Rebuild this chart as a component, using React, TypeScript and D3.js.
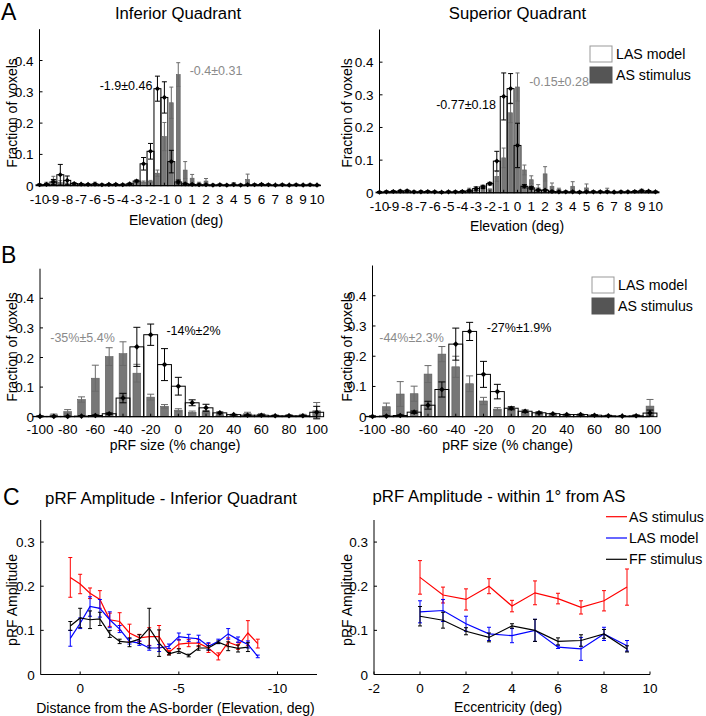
import React from 'react';
import * as d3 from 'd3';

const FONT = '"Liberation Sans", Arial, Helvetica, sans-serif';
const GRAY_TEXT = '#8a8a8a';
const BAR_GRAY = '#777777';
const BAR_GRAY_EDGE = '#5c5c5c';

// ---------- Panel A: elevation histograms ----------
const elevBins = [-10, -9.5, -9, -8.5, -8, -7.5, -7, -6.5, -6, -5.5, -5, -4.5, -4, -3.5, -3, -2.5, -2, -1.5, -1, -0.5, 0, 0.5, 1, 1.5, 2, 2.5, 3, 3.5, 4, 4.5, 5, 5.5, 6, 6.5, 7, 7.5, 8, 8.5, 9, 9.5, 10];
const elevTicks = [-10, -9, -8, -7, -6, -5, -4, -3, -2, -1, 0, 1, 2, 3, 4, 5, 6, 7, 8, 9, 10];
const fracTicks = [0, 0.1, 0.2, 0.3, 0.4];

const infLAS = [0.003, 0.004, 0.012, 0.035, 0.017, 0.007, 0.005, 0.004, 0.005, 0.003, 0.004, 0.004, 0.003, 0.006, 0.015, 0.07, 0.11, 0.31, 0.282, 0.077, 0.012, 0.006, 0.004, 0.003, 0.003, 0.002, 0.003, 0.002, 0.003, 0.002, 0.003, 0.003, 0.004, 0.003, 0.002, 0.003, 0.002, 0.003, 0.002, 0.003, 0.002];
const infLASErr = [0.002, 0.002, 0.008, 0.033, 0.014, 0.002, 0.002, 0.002, 0.002, 0.002, 0.002, 0.002, 0.002, 0.002, 0.003, 0.02, 0.025, 0.04, 0.05, 0.036, 0.006, 0.002, 0.002, 0.002, 0.002, 0.002, 0.002, 0.002, 0.002, 0.002, 0.002, 0.002, 0.002, 0.002, 0.002, 0.002, 0.002, 0.002, 0.002, 0.002, 0.002];
const infAS = [0.002, 0.008, 0.02, 0.01, 0.006, 0.004, 0.004, 0.004, 0.008, 0.003, 0.003, 0.004, 0.003, 0.004, 0.01, 0.012, 0.014, 0.04, 0.157, 0.265, 0.355, 0.05, 0.024, 0.008, 0.015, 0.003, 0.003, 0.002, 0.006, 0.003, 0.02, 0.003, 0.004, 0.003, 0.002, 0.002, 0.002, 0.002, 0.003, 0.002, 0.002];
const infASErr = [0.002, 0.003, 0.01, 0.006, 0.002, 0.002, 0.002, 0.002, 0.003, 0.002, 0.002, 0.002, 0.002, 0.002, 0.002, 0.003, 0.003, 0.01, 0.045, 0.05, 0.038, 0.027, 0.012, 0.003, 0.008, 0.002, 0.002, 0.002, 0.004, 0.002, 0.017, 0.002, 0.002, 0.002, 0.002, 0.002, 0.002, 0.002, 0.002, 0.002, 0.002];

const supLAS = [0.002, 0.003, 0.004, 0.005, 0.006, 0.003, 0.003, 0.004, 0.003, 0.002, 0.003, 0.003, 0.004, 0.006, 0.013, 0.018, 0.028, 0.097, 0.295, 0.319, 0.145, 0.02, 0.015, 0.008, 0.008, 0.004, 0.003, 0.003, 0.003, 0.002, 0.003, 0.003, 0.003, 0.003, 0.002, 0.003, 0.003, 0.004, 0.006, 0.005, 0.003];
const supLASErr = [0.002, 0.002, 0.002, 0.002, 0.002, 0.002, 0.002, 0.002, 0.002, 0.002, 0.002, 0.002, 0.002, 0.002, 0.005, 0.005, 0.004, 0.03, 0.072, 0.046, 0.068, 0.005, 0.004, 0.002, 0.002, 0.002, 0.002, 0.002, 0.002, 0.002, 0.002, 0.002, 0.002, 0.002, 0.002, 0.002, 0.002, 0.002, 0.002, 0.002, 0.002];
const supAS = [0.002, 0.004, 0.005, 0.007, 0.006, 0.003, 0.005, 0.003, 0.003, 0.002, 0.003, 0.003, 0.005, 0.01, 0.008, 0.01, 0.01, 0.05, 0.107, 0.245, 0.324, 0.07, 0.04, 0.015, 0.058, 0.02, 0.01, 0.003, 0.02, 0.003, 0.015, 0.004, 0.004, 0.008, 0.003, 0.003, 0.003, 0.005, 0.008, 0.005, 0.002];
const supASErr = [0.002, 0.002, 0.002, 0.002, 0.002, 0.002, 0.002, 0.002, 0.002, 0.002, 0.002, 0.002, 0.002, 0.004, 0.002, 0.002, 0.002, 0.015, 0.03, 0.03, 0.043, 0.015, 0.012, 0.01, 0.022, 0.01, 0.004, 0.002, 0.014, 0.002, 0.012, 0.002, 0.002, 0.006, 0.002, 0.002, 0.002, 0.002, 0.003, 0.002, 0.002];

// ---------- Panel B: pRF size histograms ----------
const sizeBins = [-100, -90, -80, -70, -60, -50, -40, -30, -20, -10, 0, 10, 20, 30, 40, 50, 60, 70, 80, 90, 100];
const sizeTicks = [-100, -80, -60, -40, -20, 0, 20, 40, 60, 80, 100];

const infSizeLAS = [0.001, 0.001, 0.001, 0.002, 0.004, 0.01, 0.063, 0.236, 0.277, 0.176, 0.103, 0.047, 0.03, 0.013, 0.007, 0.005, 0.005, 0.003, 0.003, 0.003, 0.015];
const infSizeLASErr = [0.001, 0.001, 0.001, 0.001, 0.002, 0.003, 0.016, 0.066, 0.036, 0.054, 0.03, 0.01, 0.012, 0.003, 0.001, 0.001, 0.001, 0.001, 0.001, 0.001, 0.02];
const infSizeAS = [0.002, 0.006, 0.017, 0.058, 0.13, 0.203, 0.213, 0.147, 0.066, 0.035, 0.022, 0.015, 0.016, 0.006, 0.004, 0.01, 0.007, 0.004, 0.005, 0.006, 0.02];
const infSizeASErr = [0.002, 0.003, 0.007, 0.009, 0.044, 0.03, 0.04, 0.03, 0.01, 0.006, 0.005, 0.004, 0.005, 0.002, 0.002, 0.005, 0.003, 0.002, 0.002, 0.002, 0.028];

const supSizeLAS = [0.001, 0.002, 0.004, 0.015, 0.038, 0.09, 0.24, 0.282, 0.14, 0.083, 0.028, 0.018, 0.013, 0.01, 0.007, 0.007, 0.005, 0.003, 0.002, 0.003, 0.012];
const supSizeLASErr = [0.001, 0.001, 0.002, 0.004, 0.013, 0.025, 0.053, 0.03, 0.043, 0.024, 0.005, 0.004, 0.003, 0.001, 0.001, 0.001, 0.001, 0.001, 0.001, 0.001, 0.01];
const supSizeAS = [0.001, 0.033, 0.075, 0.076, 0.141, 0.207, 0.165, 0.109, 0.052, 0.025, 0.025, 0.013, 0.01, 0.006, 0.005, 0.006, 0.004, 0.003, 0.002, 0.005, 0.035];
const supSizeASErr = [0.002, 0.012, 0.041, 0.025, 0.028, 0.025, 0.035, 0.026, 0.012, 0.005, 0.005, 0.004, 0.003, 0.002, 0.002, 0.002, 0.002, 0.002, 0.002, 0.002, 0.022];

// ---------- Panel C: pRF amplitude ----------
const distX = [0.5, 0, -0.5, -1, -1.5, -2, -2.5, -3, -3.5, -4, -4.5, -5, -5.5, -6, -6.5, -7, -7.5, -8, -8.5, -9];
const distXBlack = [0.5, 0, -0.5, -1, -1.5, -2, -2.5, -3, -3.5, -4, -4.5, -5, -5.5, -6, -6.5, -7, -7.5, -8, -8.5];
const distTicks = [0, -5, -10];
const ampTicks = [0, 0.1, 0.2, 0.3];
const distRed = [0.22, 0.205, 0.184, 0.17, 0.124, 0.12, 0.094, 0.083, 0.086, 0.086, 0.05, 0.069, 0.071, 0.071, 0.06, 0.041, 0.073, 0.065, 0.094, 0.07];
const distRedErr = [0.045, 0.022, 0.012, 0.02, 0.015, 0.02, 0.02, 0.008, 0.02, 0.025, 0.005, 0.01, 0.008, 0.008, 0.01, 0.008, 0.01, 0.008, 0.028, 0.01];
const distBlue = [0.082, 0.116, 0.154, 0.15, 0.124, 0.103, 0.075, 0.071, 0.06, 0.06, 0.064, 0.086, 0.083, 0.081, 0.064, 0.075, 0.092, 0.079, 0.068, 0.041];
const distBlueErr = [0.018, 0.012, 0.022, 0.02, 0.018, 0.008, 0.006, 0.005, 0.005, 0.008, 0.005, 0.008, 0.008, 0.008, 0.008, 0.005, 0.012, 0.006, 0.008, 0.003];
const distBlack = [0.11, 0.128, 0.124, 0.126, 0.092, 0.075, 0.073, 0.08, 0.105, 0.071, 0.047, 0.053, 0.043, 0.06, 0.06, 0.073, 0.064, 0.059, 0.062];
const distBlackErr = [0.01, 0.022, 0.02, 0.015, 0.008, 0.005, 0.01, 0.01, 0.045, 0.03, 0.003, 0.005, 0.003, 0.005, 0.005, 0.003, 0.01, 0.008, 0.01];

const eccX = [0, 1, 2, 3, 4, 5, 6, 7, 8, 9];
const eccTicks = [-2, 0, 2, 4, 6, 8, 10];
const eccRed = [0.22, 0.18, 0.17, 0.2, 0.155, 0.185, 0.172, 0.152, 0.167, 0.198];
const eccRedErr = [0.038, 0.018, 0.024, 0.017, 0.013, 0.027, 0.012, 0.015, 0.023, 0.041];
const eccBlue = [0.142, 0.145, 0.115, 0.092, 0.088, 0.1, 0.062, 0.058, 0.092, 0.065];
const eccBlueErr = [0.025, 0.025, 0.017, 0.015, 0.016, 0.025, 0.003, 0.026, 0.015, 0.012];
const eccBlack = [0.132, 0.123, 0.098, 0.084, 0.11, 0.1, 0.075, 0.077, 0.092, 0.058];
const eccBlackErr = [0.022, 0.018, 0.008, 0.01, 0.005, 0.025, 0.008, 0.013, 0.01, 0.007];

const legendBars = ['LAS model', 'AS stimulus'];
const legendLines = ['AS stimulus', 'LAS model', 'FF stimulus'];
const lineColors = ['#ff0000', '#0000ff', '#000000'];

type HistProps = {
  xDomain: [number, number];
  xRange: [number, number];
  y0: number;
  yTop: number;
  bins: number[];
  bw: number;
  white: number[];
  whiteErr: number[];
  gray: number[];
  grayErr: number[];
  xTicks: number[];
  cap: number;
  grayCap: number;
  marker: number;
  tickDy: number;
};

function diamond(cx: number, cy: number, r: number) {
  return `M${cx},${cy - r}L${cx + r},${cy}L${cx},${cy + r}L${cx - r},${cy}Z`;
}

function HistPanel(p: HistProps) {
  const x = d3.scaleLinear().domain(p.xDomain).range(p.xRange);
  const y = d3.scaleLinear().domain([0, 0.5]).range([p.y0, p.yTop]);
  const half = p.bw / 2;
  const gHalf = p.bw * 0.28;
  return (
    <g>
      {p.bins.map((b, i) => (
        <rect key={'w' + i} x={x(b - half)} y={y(p.white[i])} width={x(b + half) - x(b - half)} height={p.y0 - y(p.white[i])} fill="#fff" />
      ))}
      {p.bins.map((b, i) => (
        <rect key={'g' + i} x={x(b - gHalf)} y={y(p.gray[i])} width={x(b + gHalf) - x(b - gHalf)} height={p.y0 - y(p.gray[i])} fill={BAR_GRAY} stroke={BAR_GRAY_EDGE} strokeWidth={0.6} />
      ))}
      {p.bins.map((b, i) => (
        <g key={'ge' + i} stroke="#6a6a6a" strokeWidth={1}>
          <line x1={x(b)} x2={x(b)} y1={y(p.gray[i] - p.grayErr[i])} y2={y(p.gray[i] + p.grayErr[i])} />
          <line x1={x(b) - p.grayCap} x2={x(b) + p.grayCap} y1={y(p.gray[i] + p.grayErr[i])} y2={y(p.gray[i] + p.grayErr[i])} />
          <line x1={x(b) - p.grayCap} x2={x(b) + p.grayCap} y1={y(p.gray[i] - p.grayErr[i])} y2={y(p.gray[i] - p.grayErr[i])} />
        </g>
      ))}
      {p.bins.map((b, i) => (
        <rect key={'wo' + i} x={x(b - half)} y={y(p.white[i])} width={x(b + half) - x(b - half)} height={p.y0 - y(p.white[i])} fill="none" stroke="#000" strokeWidth={1} />
      ))}
      {p.bins.map((b, i) => (
        <g key={'we' + i} stroke="#000" strokeWidth={1}>
          <line x1={x(b)} x2={x(b)} y1={y(p.white[i] - p.whiteErr[i])} y2={y(p.white[i] + p.whiteErr[i])} />
          <line x1={x(b) - p.cap} x2={x(b) + p.cap} y1={y(p.white[i] + p.whiteErr[i])} y2={y(p.white[i] + p.whiteErr[i])} />
          <line x1={x(b) - p.cap} x2={x(b) + p.cap} y1={y(p.white[i] - p.whiteErr[i])} y2={y(p.white[i] - p.whiteErr[i])} />
        </g>
      ))}
      {p.bins.map((b, i) => (
        <path key={'m' + i} d={diamond(x(b), y(p.white[i]), p.marker)} fill="#000" />
      ))}
      <Axes x={x} y={y} xTicks={p.xTicks} yTicks={fracTicks} x0={p.xRange[0]} x1={p.xRange[1]} y0={p.y0} yTop={p.yTop} tickDy={p.tickDy} yFmt={(v) => (v === 0 ? '0' : d3.format('.1f')(v))} />
    </g>
  );
}

function Axes(p: { x: d3.ScaleLinear<number, number>; y: d3.ScaleLinear<number, number>; xTicks: number[]; yTicks: number[]; x0: number; x1: number; y0: number; yTop: number; tickDy: number; yFmt: (v: number) => string }) {
  return (
    <g fontFamily={FONT} fontSize={13.5} fill="#000">
      <line x1={p.x0} x2={p.x1} y1={p.y0} y2={p.y0} stroke="#000" strokeWidth={1} />
      <line x1={p.x0} x2={p.x0} y1={p.y0} y2={p.yTop} stroke="#000" strokeWidth={1} />
      {p.yTicks.map((t) => (
        <g key={'yt' + t}>
          <line x1={p.x0} x2={p.x0 + 3} y1={p.y(t)} y2={p.y(t)} stroke="#000" />
          <text x={p.x0 - 6} y={p.y(t) + 5} textAnchor="end">{p.yFmt(t)}</text>
        </g>
      ))}
      {p.xTicks.map((t) => (
        <g key={'xt' + t}>
          <line x1={p.x(t)} x2={p.x(t)} y1={p.y0} y2={p.y0 - 3} stroke="#000" />
          <text x={p.x(t)} y={p.y0 + p.tickDy} textAnchor="middle">{String(t)}</text>
        </g>
      ))}
    </g>
  );
}

type Series = { xs: number[]; ys: number[]; es: number[]; color: string };

function LinePanel(p: { xDomain: [number, number]; xRange: [number, number]; y0: number; yTop: number; series: Series[]; xTicks: number[] }) {
  const x = d3.scaleLinear().domain(p.xDomain).range(p.xRange);
  const y = d3.scaleLinear().domain([0, 0.35]).range([p.y0, p.yTop]);
  const cap = 2;
  return (
    <g>
      {p.series.map((s, si) => {
        const line = d3.line<number>().x((_, i) => x(s.xs[i])).y((v) => y(v));
        return (
          <g key={si} stroke={s.color} fill="none" strokeWidth={1.2}>
            <path d={line(s.ys) || ''} />
            {s.ys.map((v, i) => (
              <g key={i} strokeWidth={1}>
                <line x1={x(s.xs[i])} x2={x(s.xs[i])} y1={y(v - s.es[i])} y2={y(v + s.es[i])} />
                <line x1={x(s.xs[i]) - cap} x2={x(s.xs[i]) + cap} y1={y(v + s.es[i])} y2={y(v + s.es[i])} />
                <line x1={x(s.xs[i]) - cap} x2={x(s.xs[i]) + cap} y1={y(v - s.es[i])} y2={y(v - s.es[i])} />
              </g>
            ))}
          </g>
        );
      })}
      <Axes x={x} y={y} xTicks={p.xTicks} yTicks={ampTicks} x0={p.xRange[0]} x1={p.xRange[1]} y0={p.y0} yTop={p.yTop} tickDy={18} yFmt={(v) => (v === 0 ? '0' : d3.format('.1f')(v))} />
    </g>
  );
}

function BarLegend({ x, y }: { x: number; y: number }) {
  return (
    <g fontFamily={FONT} fontSize={14.2}>
      <rect x={x} y={y} width={22} height={16} fill="#fff" stroke="#999" strokeWidth={1} />
      <rect x={x} y={y + 21} width={22} height={16} fill="#555" stroke="#555" strokeWidth={1} />
      <text x={x + 26} y={y + 13}>{legendBars[0]}</text>
      <text x={x + 26} y={y + 34}>{legendBars[1]}</text>
    </g>
  );
}

function VLabel({ x, y, text, size }: { x: number; y: number; text: string; size: number }) {
  return (
    <text transform={`translate(${x},${y}) rotate(-90)`} textAnchor="middle" fontFamily={FONT} fontSize={size}>{text}</text>
  );
}

function T({ x, y, text, size, color = '#000', anchor = 'middle' }: { x: number; y: number; text: string; size: number; color?: string; anchor?: string }) {
  return (
    <text x={x} y={y} fontFamily={FONT} fontSize={size} fill={color} textAnchor={anchor as any}>{text}</text>
  );
}

export default function App() {
  return (
    <svg width={706} height={716} style={{ position: 'absolute', left: 0, top: 0, background: '#fff' }}>
      <rect width={706} height={716} fill="#fff" />
      {/* Panel letters */}
      <T x={1} y={20} text="A" size={23} anchor="start" />
      <T x={1} y={263} text="B" size={23} anchor="start" />
      <T x={3} y={505} text="C" size={23} anchor="start" />

      {/* Panel A */}
      <T x={178} y={19} text="Inferior Quadrant" size={16.7} />
      <T x={517.5} y={19} text="Superior Quadrant" size={16.7} />
      <HistPanel xDomain={[-10, 10]} xRange={[39.5, 317]} y0={185.7} yTop={29.2} bins={elevBins} bw={0.5}
        white={infLAS} whiteErr={infLASErr} gray={infAS} grayErr={infASErr} xTicks={elevTicks} cap={2.5} grayCap={2} marker={2.6} tickDy={18} />
      <HistPanel xDomain={[-10, 10]} xRange={[379.5, 655.5]} y0={192.8} yTop={29.5} bins={elevBins} bw={0.5}
        white={supLAS} whiteErr={supLASErr} gray={supAS} grayErr={supASErr} xTicks={elevTicks} cap={2.5} grayCap={2} marker={2.6} tickDy={18} />
      <VLabel x={17} y={113} text="Fraction of voxels" size={14} />
      <VLabel x={352} y={113} text="Fraction of voxels" size={14} />
      <T x={176} y={225} text="Elevation (deg)" size={14} />
      <T x={517} y={231} text="Elevation (deg)" size={14} />
      <T x={126} y={89.5} text="-1.9±0.46" size={12.5} />
      <T x={216} y={74.5} text="-0.4±0.31" size={12.5} color={GRAY_TEXT} />
      <T x={466} y={108.5} text="-0.77±0.18" size={12.5} />
      <T x={559} y={86} text="-0.15±0.28" size={12.5} color={GRAY_TEXT} />
      <BarLegend x={590} y={46} />

      {/* Panel B */}
      <HistPanel xDomain={[-100, 100]} xRange={[40, 316.7]} y0={416.7} yTop={268.7} bins={sizeBins} bw={10}
        white={infSizeLAS} whiteErr={infSizeLASErr} gray={infSizeAS} grayErr={infSizeASErr} xTicks={sizeTicks} cap={3.5} grayCap={3.5} marker={2.8} tickDy={17} />
      <HistPanel xDomain={[-100, 100]} xRange={[372.5, 650]} y0={416.7} yTop={265.5} bins={sizeBins} bw={10}
        white={supSizeLAS} whiteErr={supSizeLASErr} gray={supSizeAS} grayErr={supSizeASErr} xTicks={sizeTicks} cap={3.5} grayCap={3.5} marker={2.8} tickDy={17} />
      <VLabel x={17} y={347} text="Fraction of voxels" size={14} />
      <VLabel x={352} y={347} text="Fraction of voxels" size={14} />
      <T x={175} y={450} text="pRF size (% change)" size={14} />
      <T x={507.5} y={450} text="pRF size (% change)" size={14} />
      <T x={82.5} y={341.5} text="-35%±5.4%" size={12.5} color={GRAY_TEXT} />
      <T x={193.5} y={335} text="-14%±2%" size={12.5} />
      <T x={411.5} y={341.5} text="-44%±2.3%" size={12.5} color={GRAY_TEXT} />
      <T x={519} y={331.5} text="-27%±1.9%" size={12.5} />
      <BarLegend x={592} y={277} />

      {/* Panel C */}
      <T x={171} y={504} text="pRF Amplitude - Inferior Quadrant" size={16.8} />
      <T x={499} y={502} text="pRF Amplitude - within 1° from AS" size={16.8} />
      <LinePanel xDomain={[2, -12]} xRange={[40.7, 317]} y0={674.5} yTop={520} xTicks={distTicks}
        series={[
          { xs: distX, ys: distRed, es: distRedErr, color: lineColors[0] },
          { xs: distX, ys: distBlue, es: distBlueErr, color: lineColors[1] },
          { xs: distXBlack, ys: distBlack, es: distBlackErr, color: lineColors[2] },
        ]} />
      <LinePanel xDomain={[-2, 10]} xRange={[374, 650]} y0={674.5} yTop={520} xTicks={eccTicks}
        series={[
          { xs: eccX, ys: eccRed, es: eccRedErr, color: lineColors[0] },
          { xs: eccX, ys: eccBlue, es: eccBlueErr, color: lineColors[1] },
          { xs: eccX, ys: eccBlack, es: eccBlackErr, color: lineColors[2] },
        ]} />
      <VLabel x={17} y={600} text="pRF Amplitude" size={14} />
      <VLabel x={352} y={600} text="pRF Amplitude" size={14} />
      <T x={175.5} y={713} text="Distance from the AS-border (Elevation, deg)" size={14} />
      <T x={508} y={712} text="Eccentricity (deg)" size={14} />
      <g fontFamily={FONT} fontSize={14.2}>
        {legendLines.map((l, i) => (
          <g key={l}>
            <line x1={606} x2={627} y1={516.7 + i * 21.3} y2={516.7 + i * 21.3} stroke={lineColors[i]} strokeWidth={1.2} />
            <text x={629} y={516.7 + i * 21.3 + 5}>{l}</text>
          </g>
        ))}
      </g>
    </svg>
  );
}
